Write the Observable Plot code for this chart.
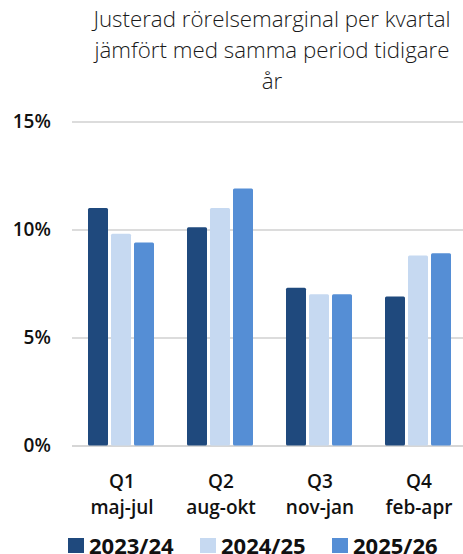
<!DOCTYPE html>
<html>
<head>
<meta charset="utf-8">
<script src="https://cdn.jsdelivr.net/npm/d3@7"></script>
<script src="https://cdn.jsdelivr.net/npm/@observablehq/plot@0.6"></script>
<style>
  html, body { margin: 0; padding: 0; background: #fff; overflow: hidden; }
  #wrap { position: relative; width: 463px; height: 554px; font-family: "Open Sans", sans-serif; color: #111; }
  #title { position: absolute; left: 81px; width: 382px; top: 2.8px; text-align: center; font-size: 22.3px; font-weight: 300; line-height: 31px; white-space: nowrap; color: #1a1a1a; }
  #chart { position: absolute; left: 0; top: 100px; }
  #legend { position: absolute; top: 533.8px; left: 68px; display: flex; font-size: 22px; font-weight: 700; line-height: 22px; }
  .item { width: 132px; display: flex; align-items: flex-start; white-space: nowrap; }
  .sw { width: 16px; height: 15px; margin-top: 4.5px; margin-right: 5px; flex: none; }
</style>
</head>
<body>
<div id="wrap">
  <div id="title">Justerad rörelsemarginal per kvartal<br>jämfört med samma period tidigare<br>år</div>
  <div id="chart"></div>
  <div id="legend"></div>
</div>
<script>
const quarters = ["Q1", "Q2", "Q3", "Q4"];
const periods = ["maj-jul", "aug-okt", "nov-jan", "feb-apr"];
const seriesNames = ["2023/24", "2024/25", "2025/26"];
const values2023_24 = [11.0, 10.1, 7.3, 6.9];
const values2024_25 = [9.8, 11.0, 7.0, 8.8];
const values2025_26 = [9.4, 11.9, 7.0, 8.9];
const seriesColors = ["#1F497D", "#C6D9F1", "#558ED5"];
const yTicks = [0, 5, 10, 15];

const seriesValues = [values2023_24, values2024_25, values2025_26];
const data = quarters.flatMap((q, i) =>
  seriesNames.map((s, j) => ({ quarter: q, series: s, value: seriesValues[j][i] }))
);

const chart = Plot.plot({
  width: 463,
  height: 420,
  marginLeft: 71,
  marginRight: 0,
  marginTop: 21.5,
  marginBottom: 74.5,
  style: { fontFamily: "'Open Sans', sans-serif", color: "#111", background: "transparent" },
  fx: { domain: quarters, range: [70.6, 469.8], padding: 0 },
  x: { domain: seriesNames, paddingInner: 0.125, paddingOuter: 0.642, axis: null },
  y: { domain: [0, 15] },
  color: { domain: seriesNames, range: seriesColors },
  marks: [
    Plot.gridY(yTicks.filter(d => d > 0), { stroke: "#d0d0d0", strokeOpacity: 1, strokeWidth: 1.3 }),
    Plot.ruleY([0], { stroke: "#d6d6d6", strokeWidth: 2 }),
    Plot.barY(data, { fx: "quarter", x: "series", y: "value", fill: "series", rx: 1.5 }),
    Plot.axisY(yTicks, {
      tickFormat: d => d + "%", tickSize: 0, tickPadding: 21.6,
      fontSize: 19, fontWeight: 600, label: null
    }),
    Plot.axisFx({
      anchor: "bottom",
      tickFormat: q => q + "\n" + periods[quarters.indexOf(q)],
      tickSize: 0, tickPadding: 23.5, fontSize: 19, fontWeight: 600,
      lineHeight: 1.37, label: null
    })
  ]
});
document.getElementById("chart").appendChild(chart);

const legend = document.getElementById("legend");
seriesNames.forEach((s, i) => {
  const item = document.createElement("div");
  item.className = "item";
  const sw = document.createElement("span");
  sw.className = "sw";
  sw.style.background = seriesColors[i];
  const label = document.createElement("span");
  label.textContent = s;
  item.appendChild(sw);
  item.appendChild(label);
  legend.appendChild(item);
});
</script>
</body>
</html>
